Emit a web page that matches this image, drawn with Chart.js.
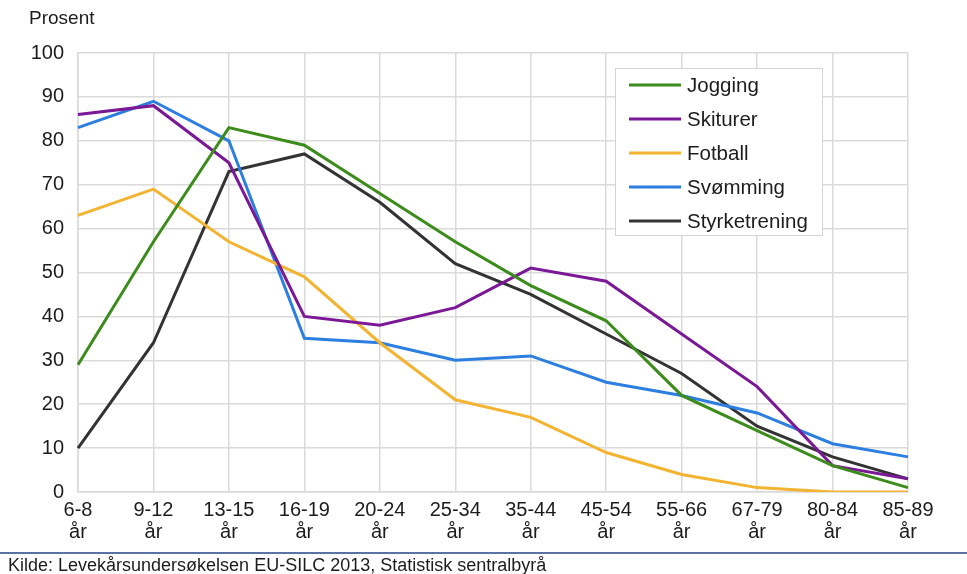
<!DOCTYPE html>
<html>
<head>
<meta charset="utf-8">
<script src="https://cdn.jsdelivr.net/npm/chart.js@4/dist/chart.umd.min.js"></script>
<style>
  html, body { margin: 0; padding: 0; background: #fff; }
  #wrap { width: 967px; height: 574px; position: relative; }
</style>
</head>
<body>
<div id="wrap"><canvas id="c" width="967" height="574"></canvas></div>
<script>
// Age groups (two-line tick labels)
const ageGroups = [
  ['6-8', 'år'], ['9-12', 'år'], ['13-15', 'år'], ['16-19', 'år'],
  ['20-24', 'år'], ['25-34', 'år'], ['35-44', 'år'], ['45-54', 'år'],
  ['55-66', 'år'], ['67-79', 'år'], ['80-84', 'år'], ['85-89', 'år']
];

// Share of each age group taking part in the activity, per cent
const jogging       = [29, 57, 83, 79, 68, 57, 47, 39, 22, 14, 6, 1];
const skiturer      = [86, 88, 75, 40, 38, 42, 51, 48, 36, 24, 6, 3];
const fotball       = [63, 69, 57, 49, 34, 21, 17, 9, 4, 1, 0, 0];
const svomming      = [83, 89, 80, 35, 34, 30, 31, 25, 22, 18, 11, 8];
const styrketrening = [10, 34, 73, 77, 66, 52, 45, 36, 27, 15, 8, 3];

const yTicks = [0, 10, 20, 30, 40, 50, 60, 70, 80, 90, 100];

const FONT = '"Liberation Sans", Arial, Helvetica, sans-serif';
const GRID = '#dadada';
const TEXT = '#1c1c1c';

function series(label, data, color) {
  return {
    label, data,
    borderColor: color, backgroundColor: color,
    borderWidth: 3, pointRadius: 0, tension: 0, fill: false
  };
}

// Boxed legend inside the plot, plus the axis caption and the source line
const decorations = {
  id: 'decorations',
  afterDraw(chart) {
    const ctx = chart.ctx;
    ctx.save();

    // axis caption
    ctx.fillStyle = TEXT;
    ctx.font = '19px ' + FONT;
    ctx.textBaseline = 'middle';
    ctx.textAlign = 'left';
    ctx.fillText('Prosent', 29, 19);

    // legend box
    const bx = 615, by = 68, bw = 207, bh = 167;
    ctx.fillStyle = '#fff';
    ctx.fillRect(bx, by, bw, bh);
    ctx.strokeStyle = '#d4d4d4';
    ctx.lineWidth = 1;
    ctx.strokeRect(bx + 0.5, by + 0.5, bw, bh);
    ctx.font = '20.5px ' + FONT;
    chart.data.datasets.forEach((ds, i) => {
      const y = by + 17 + i * 34;
      ctx.strokeStyle = ds.borderColor;
      ctx.lineWidth = 3;
      ctx.beginPath();
      ctx.moveTo(629, y);
      ctx.lineTo(681, y);
      ctx.stroke();
      ctx.fillStyle = TEXT;
      ctx.fillText(ds.label, 687, y + 1);
    });

    // source line
    ctx.strokeStyle = '#5a72a6';
    ctx.lineWidth = 2;
    ctx.beginPath();
    ctx.moveTo(0, 553);
    ctx.lineTo(967, 553);
    ctx.stroke();
    ctx.fillStyle = TEXT;
    ctx.font = '18px ' + FONT;
    ctx.fillText('Kilde: Levekårsundersøkelsen EU-SILC 2013, Statistisk sentralbyrå', 8, 566);

    ctx.restore();
  }
};

new Chart(document.getElementById('c'), {
  type: 'line',
  data: {
    labels: ageGroups,
    datasets: [
      series('Jogging', jogging, '#3b8c1a'),
      series('Skiturer', skiturer, '#7a1895'),
      series('Fotball', fotball, '#f2b431'),
      series('Svømming', svomming, '#2c7fe0'),
      series('Styrketrening', styrketrening, '#333333')
    ]
  },
  options: {
    responsive: false,
    animation: false,
    layout: { padding: { left: 0, right: 59, top: 53, bottom: 32 } },
    plugins: {
      legend: { display: false },
      title: { display: false },
      tooltip: { enabled: false }
    },
    scales: {
      x: {
        offset: false,
        grid: { color: GRID, lineWidth: 1.5, drawTicks: false },
        border: { color: GRID, width: 1.5 },
        ticks: {
          color: TEXT, padding: 7, maxRotation: 0, autoSkip: false,
          font: { family: FONT, size: 20, lineHeight: 1.1 }
        },
        afterFit(scale) { scale.height = 50; }
      },
      y: {
        min: 0, max: 100,
        afterBuildTicks(scale) { scale.ticks = yTicks.map(v => ({ value: v })); },
        grid: { color: GRID, lineWidth: 1.5, drawTicks: false },
        border: { color: GRID, width: 1.5 },
        ticks: {
          color: TEXT, padding: 14,
          font: { family: FONT, size: 20 }
        },
        afterFit(scale) { scale.width = 78; }
      }
    }
  },
  plugins: [decorations]
});
</script>
</body>
</html>
